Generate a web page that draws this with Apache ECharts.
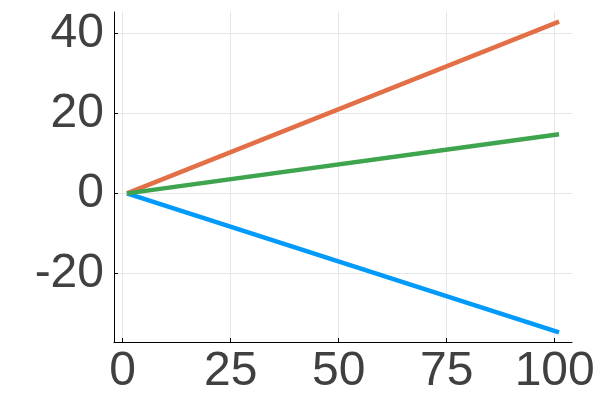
<!DOCTYPE html>
<html>
<head>
<meta charset="utf-8">
<script src="https://cdn.jsdelivr.net/npm/echarts@6/dist/echarts.min.js"></script>
<style>
  html, body { margin: 0; padding: 0; background: #fff; }
  #chart { width: 600px; height: 400px; }
</style>
</head>
<body>
<div id="chart"></div>
<script>
// x positions of the line endpoints
const xs = [1, 101];
// each series: start and end value
const y1 = [0, -34.8];
const y2 = [0, 43.0];
const y3 = [0, 14.8];
const xTicks = [0, 25, 50, 75, 100];
const yTicks = [-20, 0, 20, 40];

const colors = ['#009AFA', '#E36F47', '#3EA44E'];

const toPairs = (ys) => xs.map((x, i) => [x, ys[i]]);

const labelStyle = {
    fontFamily: 'Liberation Sans',
    fontSize: 48,
    color: '#404040',
};

const chart = echarts.init(document.getElementById('chart'));
chart.setOption({
    animation: false,
    grid: { left: 114, right: 28, top: 12, bottom: 58 },
    xAxis: {
        type: 'value',
        min: -2,
        max: 104,
        axisLine: { onZero: false, lineStyle: { color: '#000', width: 1 } },
        axisTick: { inside: true, length: 4, customValues: xTicks, lineStyle: { color: '#000' } },
        axisLabel: { ...labelStyle, margin: 6, customValues: xTicks },
        splitLine: { show: true, lineStyle: { color: '#e6e6e6', width: 1 } },
    },
    yAxis: {
        type: 'value',
        min: -37.2,
        max: 45.4,
        axisLine: { show: true, onZero: false, lineStyle: { color: '#000', width: 1 } },
        axisTick: { show: true, inside: true, length: 4, customValues: yTicks, lineStyle: { color: '#000' } },
        axisLabel: { ...labelStyle, margin: 10, customValues: yTicks },
        splitLine: { show: true, lineStyle: { color: '#e6e6e6', width: 1 } },
    },
    series: [y1, y2, y3].map((ys, i) => ({
        type: 'line',
        data: toPairs(ys),
        symbol: 'none',
        lineStyle: { color: colors[i], width: 4.5 },
    })),
});
</script>
</body>
</html>
